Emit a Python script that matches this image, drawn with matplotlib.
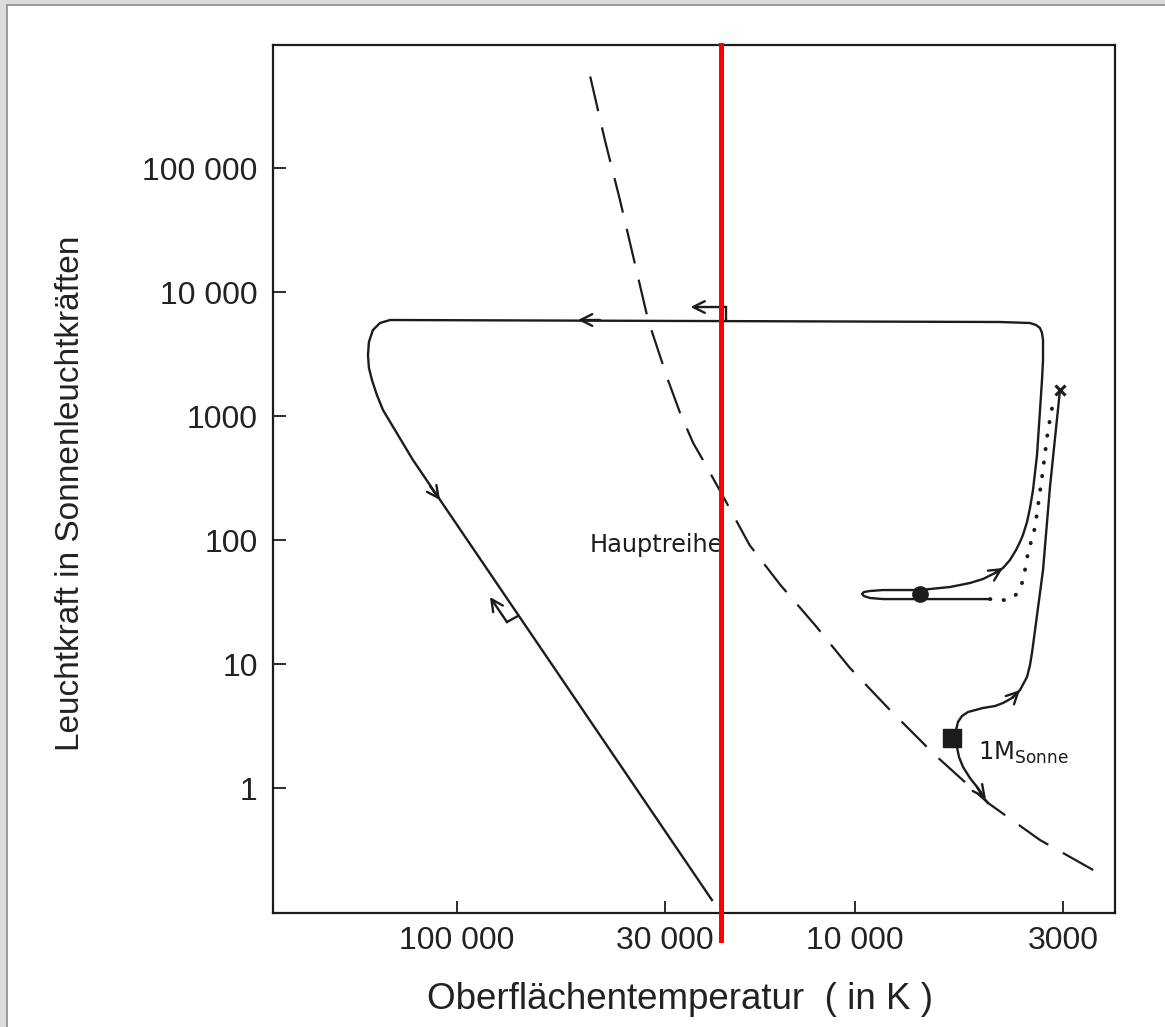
import matplotlib
matplotlib.use('Agg')
import matplotlib.pyplot as plt
from matplotlib.patches import Rectangle
from matplotlib.ticker import NullLocator

# Hauptreihe (gestrichelt): Temperatur in K, Leuchtkraft in L_Sonne
ms_temp = [46600, 42500, 38950, 35900, 33100, 29500, 27500, 25500, 24100, 21200,
           18400, 15400, 12600, 10300, 8170, 6300, 4630, 3430, 2520]
ms_lum = [605000, 168000, 55200, 18100, 5950, 1950, 1057, 606, 442, 210,
          91, 43.4, 20.6, 9.3, 4.26, 1.85, 0.757, 0.381, 0.218]

# Riesenast: von der Hauptreihe ueber den Startpunkt bis zur Spitze
rgb_temp = [4632, 4768, 4937, 5142, 5354, 5479, 5543, 5575, 5575, 5511, 5385,
            5201, 4768, 4448, 4247, 4032, 3850, 3697, 3634, 3592, 3529, 3370,
            3237, 3055]
rgb_lum = [0.757, 0.846, 1.02, 1.204, 1.48, 1.778, 2.14, 2.53, 2.936, 3.41, 3.808,
           4.102, 4.42, 4.584, 4.85, 5.318, 6.17, 7.86, 9.815, 12.3, 18.8, 57.3,
           268, 1621]

# Heliumflash (gepunktet)
flash_temp = [4579, 4322, 4126, 3918, 3806, 3741, 3676, 3529, 3390, 3274, 3181]
flash_lum = [33.4, 32.8, 32.8, 36.7, 45.0, 57.3, 78.6, 127, 322, 771, 1273]

# Horizontalast, AGB, Weg nach links, Abkuehlung als Weisser Zwerg
late_temp = [4579, 5772, 6866, 8503, 9169, 9494, 9603, 9494, 9169, 8503, 6866,
             5772, 5142, 4768, 4448, 4247, 4080, 3940, 3850, 3784, 3697, 3634,
             3571, 3489, 3390, 3370, 3370, 3390, 3429, 3509, 3634, 4322,
             147300, 156100, 162600, 166400, 167300, 166400, 163500, 158900,
             153400, 129000, 22880]
late_lum = [33.4, 33.4, 33.4, 33.4, 34.06, 35.35, 36.7, 38.07, 38.8, 39.5, 39.5,
            41.8, 45.0, 48.5, 54.2, 59.5, 69.0, 83.1, 96.4, 110, 139.7, 181,
            253, 485, 1951, 2829, 4102, 4670, 5124, 5419, 5623, 5730,
            5946, 5623, 4937, 3953, 3104, 2439, 1951, 1477,
            1118, 442, 0.125]

# Pfeile auf den Linien: (Start, Spitze)
arrows = [((43720, 5946), (49660, 5946)),
          ((116900, 272.6), (110300, 210)),
          ((4448, 54.2), (4247, 59.5)),
          ((4032, 5.318), (3850, 6.17)),
          ((4937, 1.02), (4688, 0.815))]

# Winkelpfeile
bent_a_temp = [21090, 21090, 25900]
bent_a_lum = [5946, 7568, 7568]
bent_b_temp = [70270, 74870, 82630]
bent_b_lum = [24.4, 21.8, 34.7]

start_point = (5705, 2.53)
hb_point = (6866, 36.7)
tip_point = (3055, 1621)
red_line_temp = 21710

x_ticks = [100000, 30000, 10000, 3000]
x_tick_labels = ['100 000', '30 000', '10 000', '3000']
y_ticks = [1, 10, 100, 1000, 10000, 100000]
y_tick_labels = ['1', '10', '100', '1000', '10 000', '100 000']

ink = '#1c1c1c'
plt.rcParams['font.family'] = ['Liberation Sans', 'DejaVu Sans']

fig = plt.figure(figsize=(11.65, 10.27), dpi=100, facecolor='#dcdcdc')
fig.patches.append(Rectangle((7 / 1165, -0.01), 1.0, 1 - 5 / 1027 + 0.01,
                             transform=fig.transFigure, facecolor='white',
                             edgecolor='#8c8c8c', lw=1.2, zorder=-1))
ax = fig.add_axes([0.2343, 0.1110, 0.7228, 0.8452])
ax.set_facecolor('white')

ax.set_xscale('log')
ax.set_yscale('log')
ax.set_xlim(289900, 2222)
ax.set_ylim(0.0982, 982000)

ax.plot(ms_temp, ms_lum, color=ink, lw=1.6, linestyle=(21, (16, 7.5)))
ax.plot(rgb_temp, rgb_lum, color=ink, lw=1.7, solid_joinstyle='round')
ax.plot(late_temp, late_lum, color=ink, lw=1.7, solid_joinstyle='round')
ax.plot(flash_temp, flash_lum, color=ink, lw=2.8, linestyle=(0, (0.1, 3.4)),
        dash_capstyle='round')

arrow_style = dict(arrowstyle='->,head_length=0.6,head_width=0.3', lw=1.7,
                   color=ink, shrinkA=0, shrinkB=0, mutation_scale=14)
for tail, tip in arrows:
    ax.annotate('', xy=tip, xytext=tail, arrowprops=arrow_style)

ax.plot(bent_a_temp[:2], bent_a_lum[:2], color=ink, lw=1.7)
ax.annotate('', xy=(bent_a_temp[2], bent_a_lum[2]),
            xytext=(bent_a_temp[1], bent_a_lum[1]), arrowprops=arrow_style)
ax.plot(bent_b_temp[:2], bent_b_lum[:2], color=ink, lw=1.7)
ax.annotate('', xy=(bent_b_temp[2], bent_b_lum[2]),
            xytext=(bent_b_temp[1], bent_b_lum[1]), arrowprops=arrow_style)

ax.plot(*start_point, marker='s', ms=13, color=ink)
ax.plot(*hb_point, marker='o', ms=11, color=ink)
ax.plot(*tip_point, marker='x', ms=7, mew=2.2, color=ink)

ax.text(46330, 91.2, 'Hauptreihe', fontsize=17.3, va='center', ha='left',
        family='DejaVu Sans', color=ink)
ax.text(4909, 1.68, r'$\mathregular{1M_{Sonne}}$', fontsize=17.5, va='baseline',
        ha='left', family='DejaVu Sans', color=ink)

# rote Markierungslinie, ragt unten ueber die Achse hinaus
ax.plot([red_line_temp, red_line_temp], [-0.031, 1.0], color='#ff0000', lw=3.6,
        transform=ax.get_xaxis_transform(), clip_on=False, zorder=5)

ax.set_xticks(x_ticks)
ax.set_xticklabels(x_tick_labels)
ax.set_yticks(y_ticks)
ax.set_yticklabels(y_tick_labels)
ax.xaxis.set_minor_locator(NullLocator())
ax.yaxis.set_minor_locator(NullLocator())
ax.tick_params(which='major', direction='in', length=9, width=1.3, color=ink,
               labelsize=23, labelcolor='#222222')
ax.tick_params(axis='x', pad=9.5)
ax.tick_params(axis='y', pad=11)
for sp in ax.spines.values():
    sp.set_linewidth(1.6)
    sp.set_color(ink)

ax.set_xlabel('Oberflächentemperatur  ( in K )', fontsize=26.5, color='#222222',
              va='center')
ax.xaxis.set_label_coords(0.483, -0.100)
ax.set_ylabel('Leuchtkraft in Sonnenleuchtkräften', fontsize=24, color='#222222',
              va='center', ha='center')
ax.yaxis.set_label_coords(-0.241, 0.483)

fig.savefig('out.png', dpi=100, facecolor=fig.get_facecolor())
